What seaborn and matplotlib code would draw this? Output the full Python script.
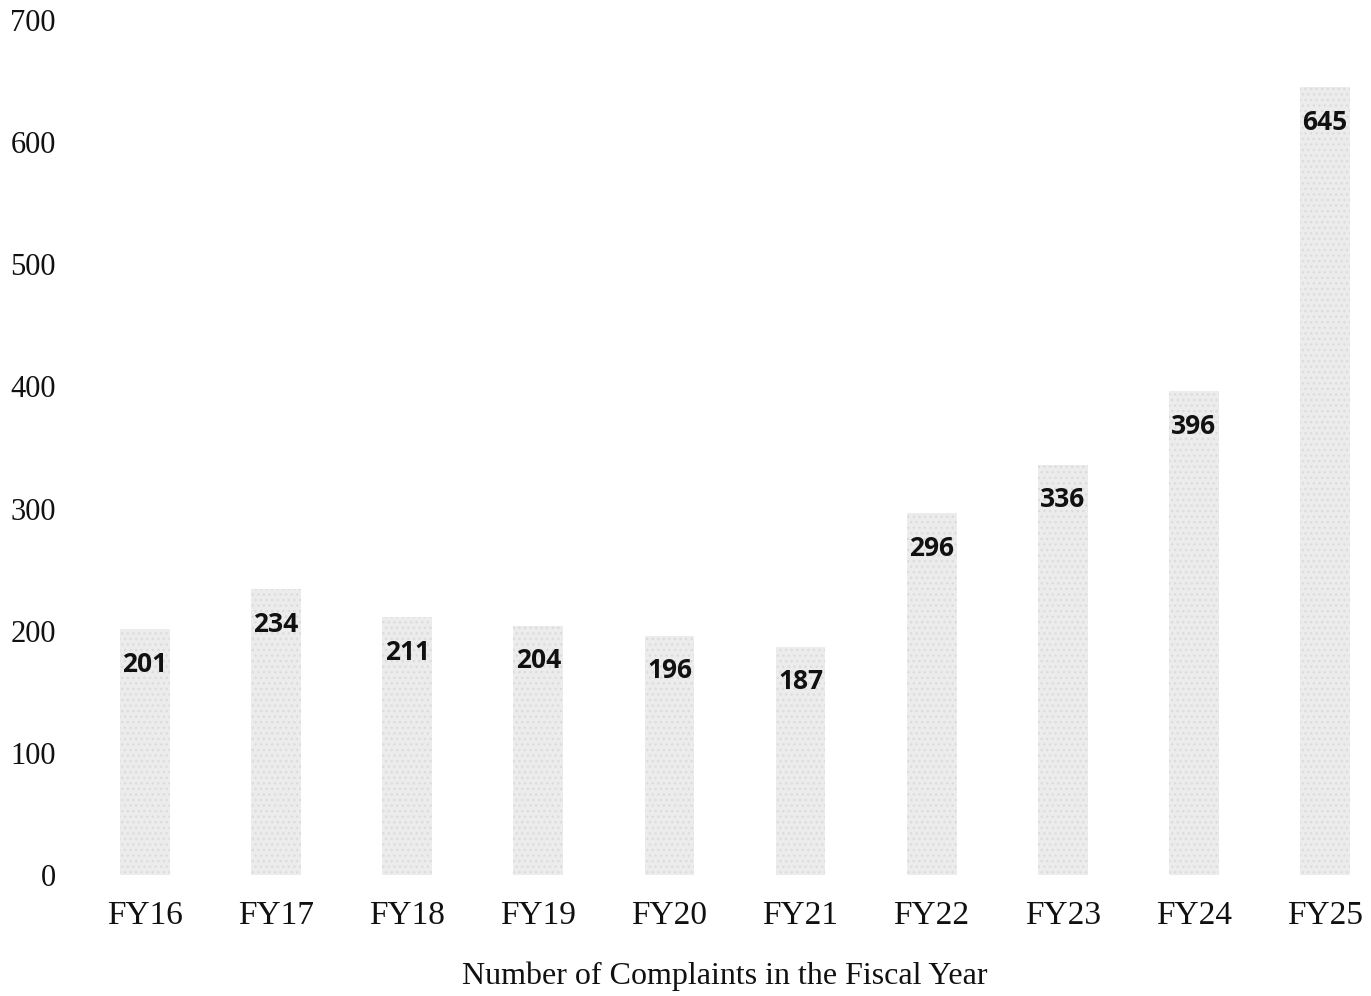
import matplotlib
matplotlib.use("Agg")
import matplotlib.pyplot as plt
import seaborn as sns
import pandas as pd

years = ["FY16", "FY17", "FY18", "FY19", "FY20", "FY21", "FY22", "FY23", "FY24", "FY25"]
complaints = [201, 234, 211, 204, 196, 187, 296, 336, 396, 645]
y_ticks = [0, 100, 200, 300, 400, 500, 600, 700]

df = pd.DataFrame({"year": years, "complaints": complaints})

sns.set_theme(style="white")
plt.rcParams["font.family"] = ["Liberation Serif", "DejaVu Serif"]

fig = plt.figure(figsize=(13.71, 9.96), dpi=100)
ax = fig.add_axes([79.5 / 1371, 121 / 996, 1291.3 / 1371, 855 / 996])

sns.barplot(data=df, x="year", y="complaints", ax=ax, color="#ececec",
            width=0.38, saturation=1, edgecolor="none")
for patch in ax.patches:
    patch.set_hatch("...")
    patch.set_edgecolor("#dcdcdc")
    patch.set_linewidth(0)
plt.rcParams["hatch.linewidth"] = 0.6

for i, v in enumerate(complaints):
    ax.annotate(str(v), xy=(i, v), xytext=(0, -35 * 72 / 100),
                textcoords="offset points", ha="center", va="center",
                fontsize=19, fontweight="bold", family="Open Sans", color="#111111")

ax.set_xlim(-0.5, 9.35)
ax.set_ylim(0, 700)
ax.set_yticks(y_ticks)
ax.set_yticklabels([str(t) for t in y_ticks], fontsize=22, color="#111111")
ax.tick_params(axis="y", length=0, pad=17)
ax.tick_params(axis="x", length=0, pad=18, labelsize=24, labelcolor="#111111")
ax.set_ylabel("")
ax.set_xlabel("Number of Complaints in the Fiscal Year", fontsize=23,
              color="#111111", labelpad=22)
sns.despine(ax=ax, left=True, bottom=True)

fig.savefig("out.png", dpi=100, facecolor="white")
